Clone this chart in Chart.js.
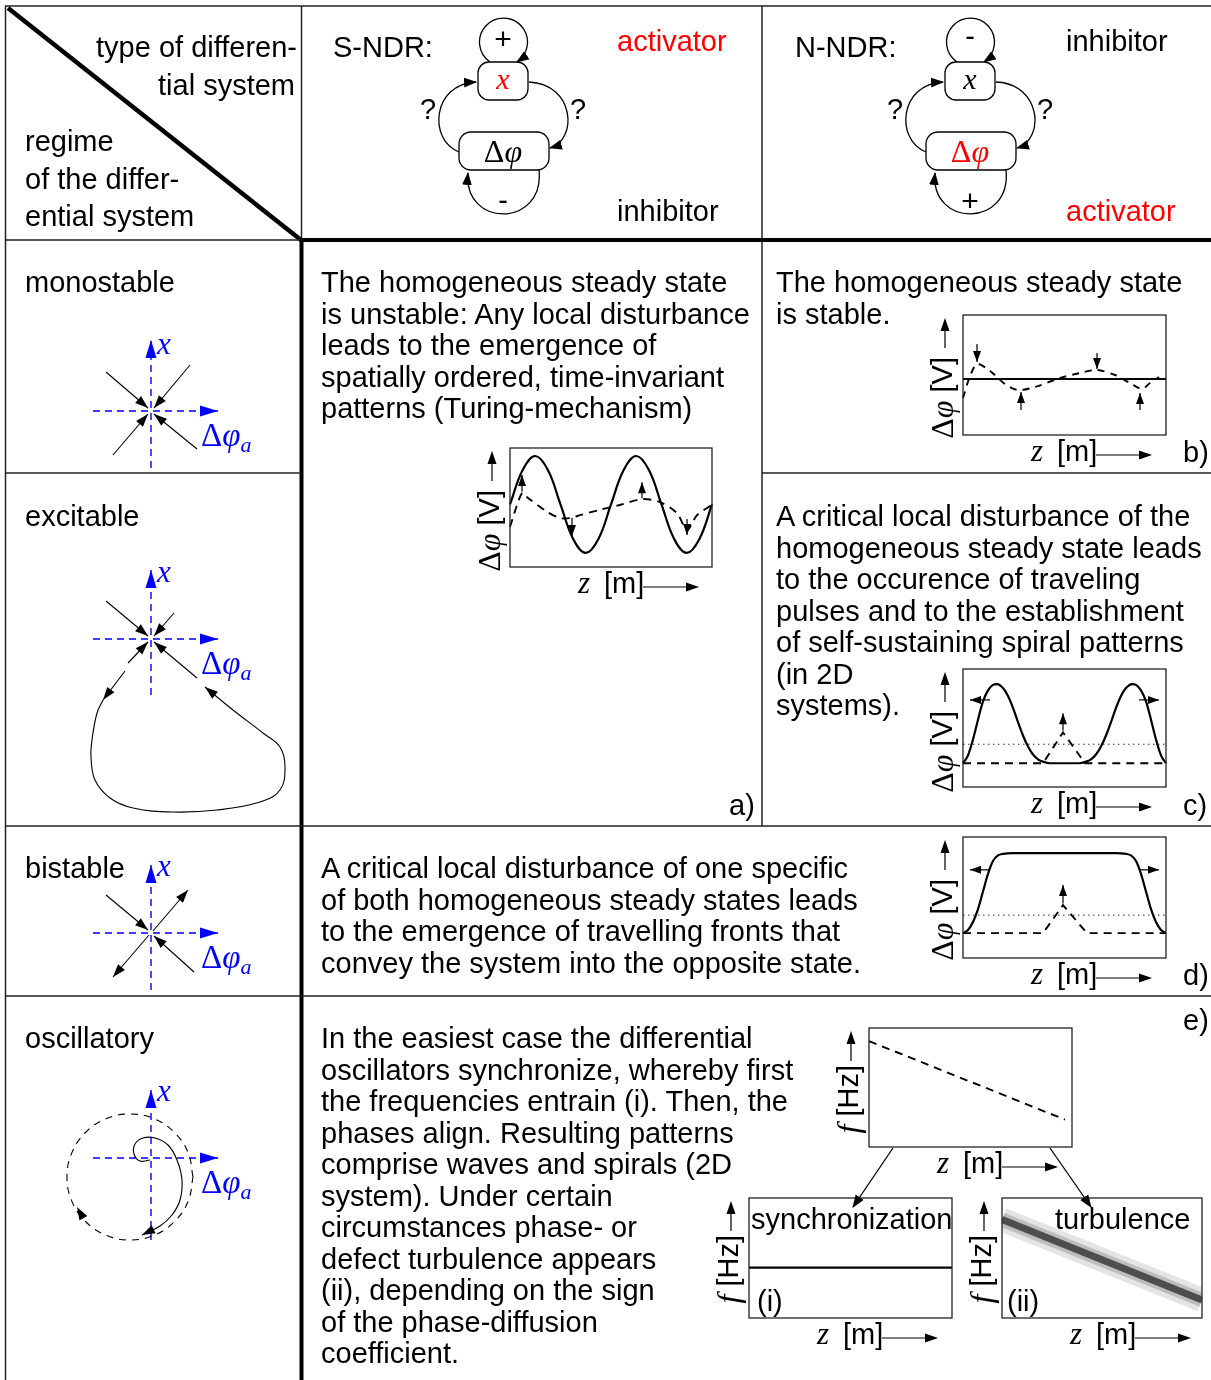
<!DOCTYPE html>
<html>
<head>
<meta charset="utf-8">
<title>Regimes of differential systems</title>
<script src="https://cdn.jsdelivr.net/npm/chart.js@4.4.1/dist/chart.umd.min.js"></script>
<style>
  html, body { margin: 0; padding: 0; background: #fff; }
  body { position: relative; width: 1211px; height: 1380px; overflow: hidden; }
  canvas.plot { position: absolute; }
  #overlay { position: absolute; left: 0; top: 0; pointer-events: none; }
  .t { font-family: 'Liberation Sans', Arial, sans-serif; font-size: 29px; fill: #000; }
  .m { font-family: 'Liberation Serif', serif; font-style: italic; }
  .up { font-family: 'Liberation Serif', serif; font-style: normal; }
  .red { fill: #f00; }
  .blue { fill: #00f; }
  .ln { stroke: #222; stroke-width: 1.5; fill: none; }
  .edge { stroke: #000; stroke-width: 1.3; fill: none; }
  .node { stroke: #000; stroke-width: 1.3; fill: #fff; }
</style>
</head>
<body>
<svg id="overlay" width="1211" height="1380">
  <defs>
    <marker id="head" viewBox="0 0 12 9" refX="11" refY="4.5" markerWidth="13" markerHeight="10" markerUnits="userSpaceOnUse" orient="auto">
      <path d="M0,0 L12,4.5 L0,9 z" fill="#000"/>
    </marker>
  </defs>

  <!-- table grid -->
  <line x1="5" y1="6" x2="1211" y2="6" class="ln"/>
  <line x1="5.5" y1="6" x2="5.5" y2="1380" class="ln"/>
  <line x1="8" y1="8" x2="301" y2="240" stroke="#000" stroke-width="4.5"/>
  <line x1="301.5" y1="6" x2="301.5" y2="240" class="ln"/>
  <line x1="301.5" y1="238" x2="301.5" y2="1380" stroke="#000" stroke-width="4"/>
  <line x1="762" y1="6" x2="762" y2="826" class="ln"/>
  <line x1="5" y1="240" x2="301" y2="240" class="ln"/>
  <line x1="300" y1="240" x2="1211" y2="240" stroke="#000" stroke-width="4"/>
  <line x1="5" y1="473" x2="301" y2="473" class="ln"/>
  <line x1="762" y1="473" x2="1211" y2="473" class="ln"/>
  <line x1="5" y1="826" x2="1211" y2="826" class="ln"/>
  <line x1="5" y1="996" x2="1211" y2="996" class="ln"/>

  <!-- header corner -->
  <text class="t" x="297" y="57" text-anchor="end">type of differen-</text>
  <text class="t" x="295" y="95" text-anchor="end">tial system</text>
  <text class="t" x="25" y="151">regime</text>
  <text class="t" x="25" y="189">of the differ-</text>
  <text class="t" x="25" y="226">ential system</text>

  <!-- S-NDR network -->
  <text class="t" x="333" y="57">S-NDR:</text>
  <text class="t red" x="617" y="51">activator</text>
  <text class="t" x="617" y="221">inhibitor</text>
  <path class="edge" d="M490 62 A24 24 0 1 1 517 62" marker-end="url(#head)"/>
  <path class="edge" d="M539 170 C545 228, 463 228, 468 173" marker-end="url(#head)"/>
  <path class="edge" d="M459 152 C428 140, 432 84, 476 82" marker-end="url(#head)"/>
  <path class="edge" d="M529 82 C575 84, 578 140, 550 148" marker-end="url(#head)"/>
  <rect class="node" x="478" y="62" width="50" height="38" rx="11"/>
  <rect class="node" x="459" y="132" width="90" height="38" rx="12"/>
  <text class="t m red" x="503" y="89" text-anchor="middle" style="font-size:30px">x</text>
  <text class="t" x="503" y="162" text-anchor="middle" style="font-size:32px"><tspan class="up">Δ</tspan><tspan class="m">φ</tspan></text>
  <text class="t" x="503" y="49" text-anchor="middle" style="font-size:30px">+</text>
  <text class="t" x="503" y="210" text-anchor="middle">-</text>
  <text class="t" x="428" y="119" text-anchor="middle">?</text>
  <text class="t" x="578" y="119" text-anchor="middle">?</text>

  <!-- N-NDR network -->
  <text class="t" x="795" y="57">N-NDR:</text>
  <text class="t" x="1066" y="51">inhibitor</text>
  <text class="t red" x="1066" y="221">activator</text>
  <g transform="translate(467,0)">
    <path class="edge" d="M490 62 A24 24 0 1 1 517 62" marker-end="url(#head)"/>
    <path class="edge" d="M539 170 C545 228, 463 228, 468 173" marker-end="url(#head)"/>
    <path class="edge" d="M459 152 C428 140, 432 84, 476 82" marker-end="url(#head)"/>
    <path class="edge" d="M529 82 C575 84, 578 140, 550 148" marker-end="url(#head)"/>
    <rect class="node" x="478" y="62" width="50" height="38" rx="11"/>
    <rect class="node" x="459" y="132" width="90" height="38" rx="12"/>
    <text class="t m" x="503" y="89" text-anchor="middle" style="font-size:30px">x</text>
    <text class="t red" x="503" y="162" text-anchor="middle" style="font-size:32px"><tspan class="up">Δ</tspan><tspan class="m">φ</tspan></text>
    <text class="t" x="503" y="46" text-anchor="middle">-</text>
    <text class="t" x="503" y="211" text-anchor="middle" style="font-size:30px">+</text>
    <text class="t" x="428" y="119" text-anchor="middle">?</text>
    <text class="t" x="578" y="119" text-anchor="middle">?</text>
  </g>

  <!-- links from the frequency profile to the two outcomes -->
  <line class="edge" x1="893" y1="1148" x2="853" y2="1207" marker-end="url(#head)"/>
  <line class="edge" x1="1050" y1="1148" x2="1091" y2="1207" marker-end="url(#head)"/>

  <!-- panel letters and inset captions -->
  <text class="t" x="729" y="815">a)</text>
  <text class="t" x="1183" y="462">b)</text>
  <text class="t" x="1183" y="815">c)</text>
  <text class="t" x="1183" y="985">d)</text>
  <text class="t" x="1183" y="1030">e)</text>
  <text class="t" x="751" y="1229">synchronization</text>
  <text class="t" x="1055" y="1229">turbulence</text>
  <text class="t" x="757" y="1311">(i)</text>
  <text class="t" x="1007" y="1311">(ii)</text>
</svg>

<script>
// ---------- data ----------
// a) S-NDR, Turing pattern: z [arb.], potential [arb.]
const zTuring = [0, 1.28, 2.55, 3.83, 5.1, 6.38, 7.65, 8.93, 10.2, 11.48, 12.75, 14.03, 15.3, 16.58, 17.85, 19.13, 20.4];
const turingState = [0, 0.71, 1, 0.71, 0, -0.71, -1, -0.71, 0, 0.71, 1, 0.71, 0, -0.71, -1, -0.71, 0];
const zTuringPert = [0, 1.21, 1.72, 3.74, 5.05, 6.06, 7.07, 9.09, 11.1, 13.33, 15.15, 16.87, 17.88, 18.89, 20.4];
const turingPert = [-0.46, 0.24, 0.15, -0.15, -0.28, -0.28, -0.22, -0.11, -0.01, 0.11, 0.05, -0.18, -0.53, -0.22, -0.01];
const turingGrowth = [[1.21, 0.26, 0.61], [6.26, -0.28, -0.65], [13.33, 0.13, 0.46], [17.88, -0.3, -0.63]]; // z, from, to

// b) N-NDR monostable: disturbance decays
const zStable = [0, 20.3];
const stableState = [0, 0];
const zStablePert = [0, 0.6, 1.4, 2.7, 4.2, 5.5, 7.2, 9.7, 11.7, 13.4, 15.2, 16.7, 17.9, 18.7, 19.6];
const stablePert = [-0.95, 0, 0.75, 0.4, -0.25, -0.55, -0.4, 0.05, 0.3, 0.45, 0.2, -0.2, -0.5, -0.2, 0.1];
const stableDecay = [[1.4, 1.75, 0.85], [5.8, -1.55, -0.65], [13.4, 1.3, 0.5], [17.7, -1.55, -0.7]];

// c) excitable: two travelling pulses
const zPulse = [0, 0.5, 1, 1.5, 2, 2.5, 3, 3.4, 4, 4.5, 5, 5.5, 6, 6.5, 7, 7.5, 8, 8.7, 11.6, 12.3, 12.8, 13.3, 13.8, 14.3, 14.8, 15.3, 15.8, 16.3, 16.9, 17.3, 17.8, 18.3, 18.8, 19.3, 19.8, 20.3];
const pulseState = [0, 0.1, 0.3, 0.55, 0.78, 0.92, 0.99, 1, 0.95, 0.85, 0.7, 0.52, 0.35, 0.21, 0.11, 0.05, 0.02, 0, 0, 0.02, 0.05, 0.11, 0.21, 0.35, 0.52, 0.7, 0.85, 0.95, 1, 0.99, 0.92, 0.78, 0.55, 0.3, 0.1, 0];
const zPulsePert = [0, 8, 10, 12.2, 20.3];
const pulsePert = [0, 0, 0.39, 0, 0];
const pulseThreshold = [0.24, 0.24];
const pulseKick = [10, 0.41, 0.63];
const pulseTravel = [[2.7, 0.7, 0.8], [17.6, 19.6, 0.8]]; // from z, to z, level

// d) bistable: two travelling fronts
const zFront = [0, 0.5, 1, 1.5, 2, 2.5, 3, 3.5, 4, 5, 15.3, 16.3, 16.8, 17.3, 17.8, 18.3, 18.8, 19.3, 19.8, 20.3];
const frontState = [0, 0.04, 0.14, 0.3, 0.52, 0.74, 0.9, 0.97, 0.99, 1, 1, 0.99, 0.97, 0.9, 0.74, 0.52, 0.3, 0.14, 0.04, 0];
const zFrontPert = [0, 8, 10, 12.4, 20.3];
const frontPert = [0, 0, 0.35, 0, 0];
const frontThreshold = [0.225, 0.225];
const frontKick = [10, 0.37, 0.6];
const frontTravel = [[2.7, 0.7, 0.79], [17.6, 19.6, 0.79]];

// e) oscillatory: frequency profiles
const zFreq = [0, 19.6];
const freqProfile = [0.89, 0.23];
const zSync = [0, 20.3];
const syncFreq = [0.42, 0.42];
const zTurb = [0, 20];
const turbFreq = [0.82, 0.15];

// phase portraits (x horizontal = Δφa, y vertical = x)
const phaseXAxis = [-5.8, 6.7];
const monoYAxis = [-5.7, 7.1];
const monoFlow = [[-4.5, 3.9, -0.3, 0.3], [3.9, 4.6, 0.3, 0.3], [-3.8, -4.4, -0.3, -0.3], [4.6, -3.8, 0.3, -0.3]];
const excYAxis = [-5.6, 6.9];
const excFlow = [[-4.5, 3.8, -0.3, 0.3], [2.3, 2.6, 0.3, 0.3], [4.6, -3.9, 0.3, -0.3], [-2.3, -2.4, -0.3, -0.3], [-2.6, -3.2, -4.8, -6.1]];
const excLoopX = [-4.8, -5.4, -5.9, -6.0, -5.6, -4.1, -1.8, 2.2, 6.6, 10.9, 12.9, 13.4, 12.9, 11.2, 8.2, 5.4];
const excLoopY = [-6.1, -7.4, -10.1, -11.8, -14.1, -15.9, -16.9, -17.3, -17.1, -16.3, -15.1, -12.8, -10.8, -9.4, -7.1, -4.8];
const bisYAxis = [-5.7, 6.8];
const bisFlow = [[-4.5, 3.8, -0.3, 0.3], [4.3, -3.9, 0.3, -0.3], [0.2, 0.2, 3.7, 4.3], [-0.2, -0.2, -3.8, -4.4]];
const oscYAxis = [-8.2, 6.8];
const cycleX = [4.2, 3.72, 2.35, 0.31, -2.1, -4.51, -6.55, -7.92, -8.4, -7.92, -6.55, -4.51, -2.1, 0.31, 2.35, 3.72, 4.2];
const cycleY = [-1.9, 0.51, 2.55, 3.92, 4.4, 3.92, 2.55, 0.51, -1.9, -4.31, -6.35, -7.72, -8.2, -7.72, -6.35, -4.31, -1.9];
const cycleArrow = [-6.91, -5.77, -7.4, -4.9];
const spiralX = [-0.1, -1.1, -1.7, -1.6, -0.8, 0.4, 1.7, 2.6, 3.1, 2.9, 2.1, 0.9, -0.9];
const spiralY = [-0.2, -0.3, 0.4, 1.4, 2.0, 2.0, 1.3, -0.2, -2.2, -4.2, -5.7, -6.8, -7.7];

// ---------- layout ----------
const plotBoxes = {
  a: { x: 510, y: 448, w: 202, h: 119, yLabel: 'phi' },
  b: { x: 963, y: 315, w: 203, h: 120, yLabel: 'phi' },
  c: { x: 963, y: 669, w: 203, h: 118, yLabel: 'phi' },
  d: { x: 963, y: 837, w: 203, h: 121, yLabel: 'phi' },
  e: { x: 869, y: 1028, w: 203, h: 119, yLabel: 'f' },
  i: { x: 749, y: 1198, w: 203, h: 120, yLabel: 'f' },
  ii: { x: 1002, y: 1198, w: 200, h: 120, yLabel: 'f' }
};
const phaseAreas = {
  mono: { x: 60, y: 320, w: 230, h: 155, cx: 151, cy: 411 },
  exc: { x: 60, y: 550, w: 240, h: 272, cx: 151, cy: 639 },
  bis: { x: 60, y: 845, w: 230, h: 150, cx: 151, cy: 933 },
  osc: { x: 50, y: 1080, w: 240, h: 180, cx: 151, cy: 1158 }
};

const overlay = document.getElementById('overlay');
const addSvg = html => overlay.insertAdjacentHTML('beforeend', html);

// ---------- plugins ----------
function drawHead(ctx, x0, y0, x1, y1, len, w, color) {
  const ang = Math.atan2(y1 - y0, x1 - x0);
  ctx.save();
  ctx.translate(x1, y1);
  ctx.rotate(ang);
  ctx.beginPath();
  ctx.moveTo(0, 0);
  ctx.lineTo(-len, -w / 2);
  ctx.lineTo(-len, w / 2);
  ctx.closePath();
  ctx.fillStyle = color;
  ctx.fill();
  ctx.restore();
}

const arrowPlugin = {
  id: 'arrowheads',
  afterDatasetsDraw(chart) {
    chart.data.datasets.forEach((ds, i) => {
      if (!ds.arrow) return;
      const els = chart.getDatasetMeta(i).data;
      const a = els[els.length - 2], b = els[els.length - 1];
      drawHead(chart.ctx, a.x, a.y, b.x, b.y, ds.arrow.len, ds.arrow.w, ds.borderColor);
    });
  }
};

const framePlugin = {
  id: 'frame',
  afterDatasetsDraw(chart, args, opts) {
    if (!opts.box) return;
    const ctx = chart.ctx;
    const { left, top, right, bottom } = chart.chartArea;
    ctx.save();
    ctx.strokeStyle = '#222';
    ctx.lineWidth = 1.3;
    ctx.strokeRect(left, top, right - left, bottom - top);
    ctx.strokeStyle = '#000';
    ctx.lineWidth = 1.2;
    // axis arrows
    ctx.beginPath();
    ctx.moveTo(left - 18, top + 33);
    ctx.lineTo(left - 18, top + 10);
    ctx.moveTo(left + 133, bottom + 20);
    ctx.lineTo(left + 178, bottom + 20);
    ctx.stroke();
    drawHead(ctx, left - 18, top + 20, left - 18, top + 3, 13, 9, '#000');
    drawHead(ctx, left + 160, bottom + 20, left + 189, bottom + 20, 13, 9, '#000');
    ctx.restore();
  }
};

// ---------- helpers ----------
const pts = (xs, ys) => xs.map((x, i) => ({ x, y: ys[i] }));

function curve(xs, ys, extra) {
  return Object.assign({
    data: pts(xs, ys), showLine: true, borderColor: '#000', borderWidth: 2.2,
    pointRadius: 0, tension: 0.4, clip: false
  }, extra);
}

function arrow(x0, y0, x1, y1, extra) {
  return Object.assign({
    data: [{ x: x0, y: y0 }, { x: x1, y: y1 }], showLine: true, borderColor: '#000',
    borderWidth: 1.2, pointRadius: 0, tension: 0, clip: false, arrow: { len: 11, w: 8 }
  }, extra);
}

const dashed = { borderWidth: 1.9, borderDash: [8, 6], tension: 0.3 };
const dotted = { borderWidth: 1, borderDash: [1.5, 3.5], borderColor: '#333', tension: 0 };

function makeCanvas(left, top, w, h) {
  const cv = document.createElement('canvas');
  cv.className = 'plot';
  cv.width = w;
  cv.height = h;
  cv.style.left = left + 'px';
  cv.style.top = top + 'px';
  document.body.insertBefore(cv, overlay);
  return cv;
}

function baseOptions(padding, xs, ys) {
  return {
    responsive: false, animation: false, devicePixelRatio: 1,
    layout: { padding },
    scales: {
      x: { type: 'linear', display: false, min: xs[0], max: xs[1] },
      y: { type: 'linear', display: false, min: ys[0], max: ys[1] }
    },
    plugins: { legend: { display: false }, tooltip: { enabled: false }, frame: { box: true } }
  };
}

// Chart.js paints dataset 0 on top; reverse so the list reads bottom -> top
const paintOrder = list => list.slice().reverse();

function miniPlot(key, xRange, yRange, datasets) {
  const box = plotBoxes[key];
  const pad = { left: 30, top: 6, right: 6, bottom: 30 };
  const cv = makeCanvas(box.x - pad.left, box.y - pad.top, box.w + pad.left + pad.right, box.h + pad.top + pad.bottom);
  new Chart(cv, { type: 'scatter', data: { datasets: paintOrder(datasets) }, options: baseOptions(pad, xRange, yRange), plugins: [arrowPlugin, framePlugin] });

  // axis captions as text
  const yl = box.yLabel === 'phi'
    ? '<tspan class="up" font-size="32">Δ</tspan><tspan class="m" font-size="32">φ</tspan> [V]'
    : '<tspan class="m" font-size="32">f</tspan> [Hz]';
  const yTop = box.yLabel === 'phi' ? box.y + 42 : box.y + 37;
  addSvg(`<text class="t" transform="translate(${box.x - 21},${yTop}) rotate(-90)" text-anchor="end" dominant-baseline="central">${yl}</text>`);
  addSvg(`<text class="t m" x="${box.x + 68}" y="${box.y + box.h + 26}" style="font-size:31px">z</text>`);
  addSvg(`<text class="t" x="${box.x + 94}" y="${box.y + box.h + 26}">[m]</text>`);
}

function phasePlot(key, datasets, yAxis) {
  const a = phaseAreas[key];
  const u = 10;
  const cv = makeCanvas(a.x, a.y, a.w, a.h);
  const axes = [
    arrow(phaseXAxis[0], 0, phaseXAxis[1], 0, { borderColor: '#00f', borderWidth: 1.4, borderDash: [7, 5], arrow: { len: 18, w: 11 } }),
    arrow(0, yAxis[0], 0, yAxis[1], { borderColor: '#00f', borderWidth: 1.4, borderDash: [7, 5], arrow: { len: 18, w: 11 } })
  ];
  const opts = baseOptions(0,
    [(a.x - a.cx) / u, (a.x + a.w - a.cx) / u],
    [(a.cy - a.y - a.h) / u, (a.cy - a.y) / u]);
  opts.plugins.frame = { box: false };
  new Chart(cv, { type: 'scatter', data: { datasets: paintOrder(axes.concat(datasets)) }, options: opts, plugins: [arrowPlugin] });

  addSvg(`<text class="t m blue" x="${a.cx + 6}" y="${a.cy - 57}" style="font-size:31px">x</text>`);
  addSvg(`<text class="t blue" x="${a.cx + 50}" y="${a.cy + 35}" style="font-size:33px"><tspan class="up">Δ</tspan><tspan class="m">φ</tspan><tspan class="m" font-size="22" dy="6">a</tspan></text>`);
}

const flowArrows = list => list.map(f => arrow(f[0], f[1], f[2], f[3], { borderWidth: 1.1, arrow: { len: 13, w: 9 } }));

// ---------- mini plots ----------
miniPlot('a', [0, 20.4], [-1.29, 1.165], [
  curve(zTuring, turingState),
  curve(zTuringPert, turingPert, dashed),
  ...turingGrowth.map(g => arrow(g[0], g[1], g[0], g[2]))
]);

miniPlot('b', [0, 20.3], [-2.8, 3.2], [
  curve(zStable, stableState, { tension: 0 }),
  curve(zStablePert, stablePert, Object.assign({}, dashed, { borderDash: [7, 6] })),
  ...stableDecay.map(g => arrow(g[0], g[1], g[0], g[2]))
]);

miniPlot('c', [0, 20.3], [-0.3, 1.19], [
  curve([0, 20.3], pulseThreshold, dotted),
  curve(zPulsePert, pulsePert, Object.assign({}, dashed, { tension: 0 })),
  curve(zPulse, pulseState, { cubicInterpolationMode: 'monotone' }),
  arrow(pulseKick[0], pulseKick[1], pulseKick[0], pulseKick[2]),
  ...pulseTravel.map(t => arrow(t[0], t[2], t[1], t[2]))
]);

miniPlot('d', [0, 20.3], [-0.31, 1.2], [
  curve([0, 20.3], frontThreshold, dotted),
  curve(zFrontPert, frontPert, Object.assign({}, dashed, { tension: 0 })),
  curve(zFront, frontState, { cubicInterpolationMode: 'monotone' }),
  arrow(frontKick[0], frontKick[1], frontKick[0], frontKick[2]),
  ...frontTravel.map(t => arrow(t[0], t[2], t[1], t[2]))
]);

miniPlot('e', [0, 20.3], [0, 1], [
  curve(zFreq, freqProfile, Object.assign({}, dashed, { tension: 0 }))
]);

miniPlot('i', [0, 20.3], [0, 1], [
  curve(zSync, syncFreq, { tension: 0 })
]);

miniPlot('ii', [0, 20], [0, 1], [
  curve(zTurb, turbFreq, { tension: 0, borderWidth: 24, borderColor: '#e4e4e4', clip: 0 }),
  curve(zTurb, turbFreq, { tension: 0, borderWidth: 14, borderColor: '#bdbdbd', clip: 0 }),
  curve(zTurb, turbFreq, { tension: 0, borderWidth: 7, borderColor: '#4d4d4d', clip: 0 })
]);

// ---------- phase portraits ----------
phasePlot('mono', flowArrows(monoFlow), monoYAxis);

phasePlot('exc', flowArrows(excFlow).concat([
  curve(excLoopX, excLoopY, { borderWidth: 1.1, tension: 0.4, arrow: { len: 13, w: 9 } })
]), excYAxis);

phasePlot('bis', flowArrows(bisFlow), bisYAxis);

phasePlot('osc', [
  curve(cycleX, cycleY, { borderWidth: 1.1, borderDash: [7, 6] }),
  arrow(cycleArrow[0], cycleArrow[1], cycleArrow[2], cycleArrow[3], { borderWidth: 0, arrow: { len: 13, w: 9 } }),
  curve(spiralX, spiralY, { borderWidth: 1.1, arrow: { len: 13, w: 9 } })
], oscYAxis);

// ---------- text ----------
function paragraph(x, y0, lines) {
  lines.forEach((s, k) => addSvg(`<text class="t" x="${x}" y="${y0 + k * 31.5}">${s}</text>`));
}
paragraph(25, 292, ['monostable']);
paragraph(25, 526, ['excitable']);
paragraph(25, 878, ['bistable']);
paragraph(25, 1048, ['oscillatory']);
paragraph(321, 292, [
  'The homogeneous steady state',
  'is unstable: Any local disturbance',
  'leads to the emergence of',
  'spatially ordered, time-invariant',
  'patterns (Turing-mechanism)'
]);
paragraph(776, 292, ['The homogeneous steady state', 'is stable.']);
paragraph(776, 526, [
  'A critical local disturbance of the',
  'homogeneous steady state leads',
  'to the occurence of traveling',
  'pulses and to the establishment',
  'of self-sustaining spiral patterns',
  '(in 2D',
  'systems).'
]);
paragraph(321, 878, [
  'A critical local disturbance of one specific',
  'of both homogeneous steady states leads',
  'to the emergence of travelling fronts that',
  'convey the system into the opposite state.'
]);
paragraph(321, 1048, [
  'In the easiest case the differential',
  'oscillators synchronize, whereby first',
  'the frequencies entrain (i). Then, the',
  'phases align. Resulting patterns',
  'comprise waves and spirals (2D',
  'system). Under certain',
  'circumstances phase- or',
  'defect turbulence appears',
  '(ii), depending on the sign',
  'of the phase-diffusion',
  'coefficient.'
]);
</script>
</body>
</html>
